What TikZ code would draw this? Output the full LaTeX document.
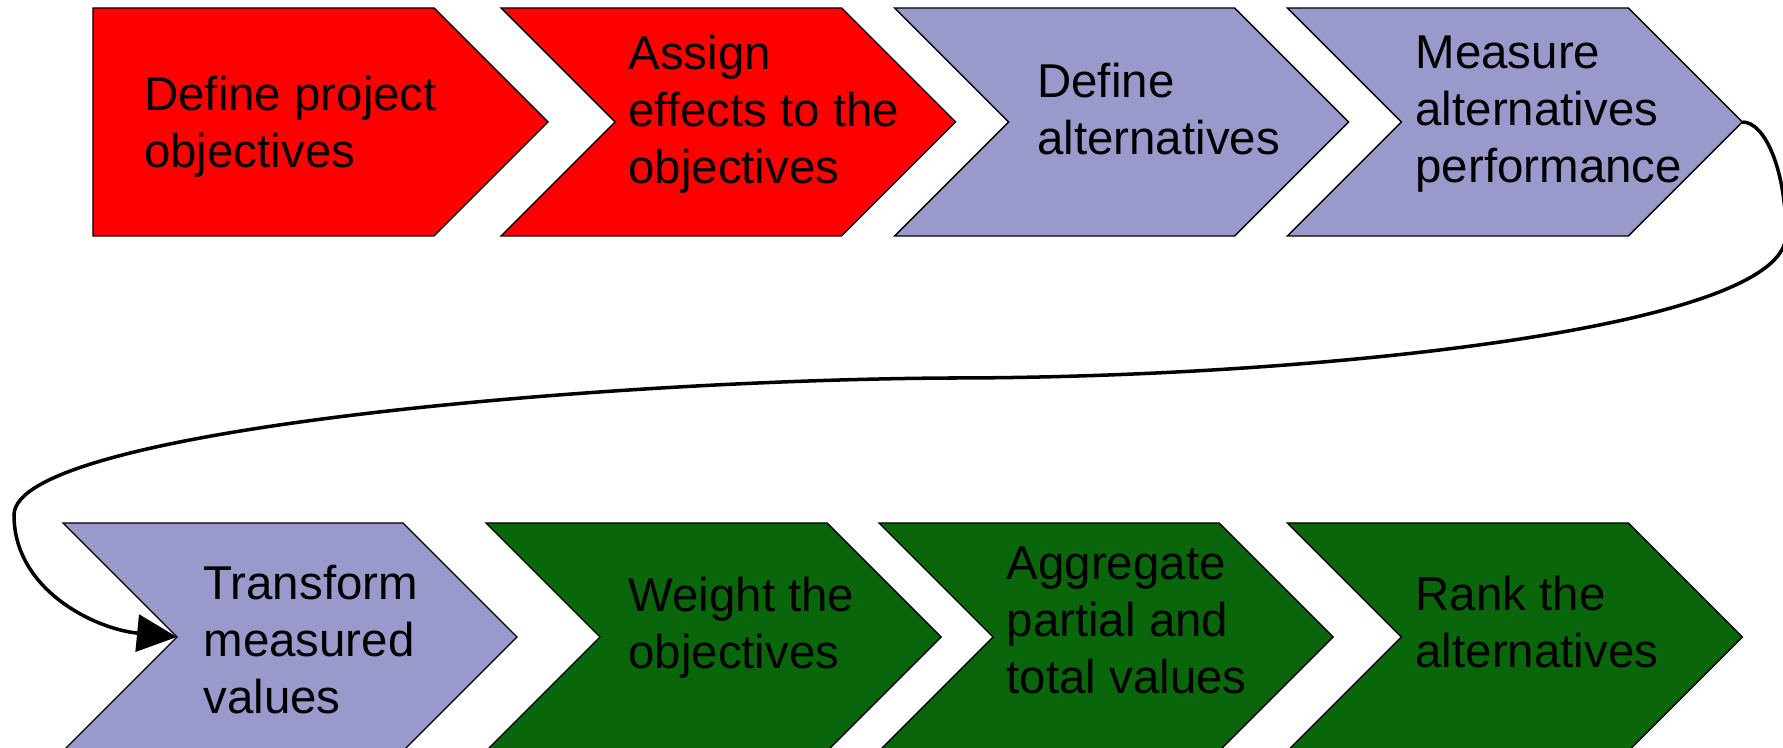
\documentclass[tikz,border=0pt]{standalone}
\usepackage{fontspec}
\setmainfont{Liberation Sans}
\usepackage{xcolor}
\usetikzlibrary{arrows.meta}
\definecolor{stepred}{RGB}{255,0,0}
\definecolor{steplilac}{RGB}{153,153,204}
\definecolor{stepgreen}{RGB}{10,102,10}
\tikzset{
	stepbox/.style={draw=black, line width=0.4pt, line join=miter},
	steptext/.style={anchor=north west, inner sep=0pt, align=left, font=\fontsize{13.5}{16.2}\selectfont},
}
\begin{document}
\begin{tikzpicture}
				\clip (0,0) rectangle (17.83,-7.48);

				% first row
				\filldraw[stepbox, fill=stepred] (0.93,-0.08) -- ++(3.41,0) -- ++(1.14,-1.14) -- ++(-1.14,-1.14) -- ++(-3.41,0) -- cycle;
				\filldraw[stepbox, fill=stepred] (5.01,-0.08) -- ++(3.405,0) -- ++(1.14,-1.14) -- ++(-1.14,-1.14) -- ++(-3.405,0) -- ++(1.14,1.14) -- cycle;
				\filldraw[stepbox, fill=steplilac] (8.946,-0.08) -- ++(3.40,0) -- ++(1.14,-1.14) -- ++(-1.14,-1.14) -- ++(-3.40,0) -- ++(1.14,1.14) -- cycle;
				\filldraw[stepbox, fill=steplilac] (12.874,-0.08) -- ++(3.41,0) -- ++(1.14,-1.14) -- ++(-1.14,-1.14) -- ++(-3.41,0) -- ++(1.14,1.14) -- cycle;

				% second row
				\filldraw[stepbox, fill=steplilac] (0.63,-5.23) -- ++(3.40,0) -- ++(1.14,-1.14) -- ++(-1.14,-1.14) -- ++(-3.40,0) -- ++(1.14,1.14) -- cycle;
				\filldraw[stepbox, fill=stepgreen] (4.86,-5.23) -- ++(3.41,0) -- ++(1.14,-1.14) -- ++(-1.14,-1.14) -- ++(-3.41,0) -- ++(1.14,1.14) -- cycle;
				\filldraw[stepbox, fill=stepgreen] (8.79,-5.23) -- ++(3.40,0) -- ++(1.14,-1.14) -- ++(-1.14,-1.14) -- ++(-3.40,0) -- ++(1.14,1.14) -- cycle;
				\filldraw[stepbox, fill=stepgreen] (12.874,-5.23) -- ++(3.41,0) -- ++(1.14,-1.14) -- ++(-1.14,-1.14) -- ++(-3.41,0) -- ++(1.14,1.14) -- cycle;

				\node[steptext] (objectives) at (1.435,-0.755) {Define project\\objectives};
				\node[steptext] (effects) at (6.277,-0.345) {Assign\\effects to the\\objectives};
				\node[steptext] (alternatives) at (10.366,-0.622) {Define\\alternatives};
				\node[steptext] (performance) at (14.149,-0.348) {Measure\\alternatives\\performance};
				\node[steptext] (transform) at (2.028,-5.645) {Transform\\measured\\values};
				\node[steptext] (weight) at (6.277,-5.765) {Weight the\\objectives};
				\node[steptext] (aggregate) at (10.06,-5.46) {Aggregate\\partial and\\total values};
				\node[steptext] (rank) at (14.149,-5.755) {Rank the\\alternatives};

				\coordinate (measure-tip) at (17.424,-1.22);
				\coordinate (transform-notch) at (1.77,-6.37);
				\draw[line width=1pt, -{Triangle[length=0.4cm, width=0.37cm]}] (measure-tip)
					.. controls (17.65,-1.22) and (17.86,-1.70) .. (17.86,-2.35)
					.. controls (17.86,-3.30) and (13.0,-3.78) .. (9.50,-3.78)
					.. controls (6.00,-3.80) and (0.14,-4.30) .. (0.14,-5.15)
					.. controls (0.14,-5.90) and (0.95,-6.29) .. (transform-notch);
			\end{tikzpicture}
\end{document}
